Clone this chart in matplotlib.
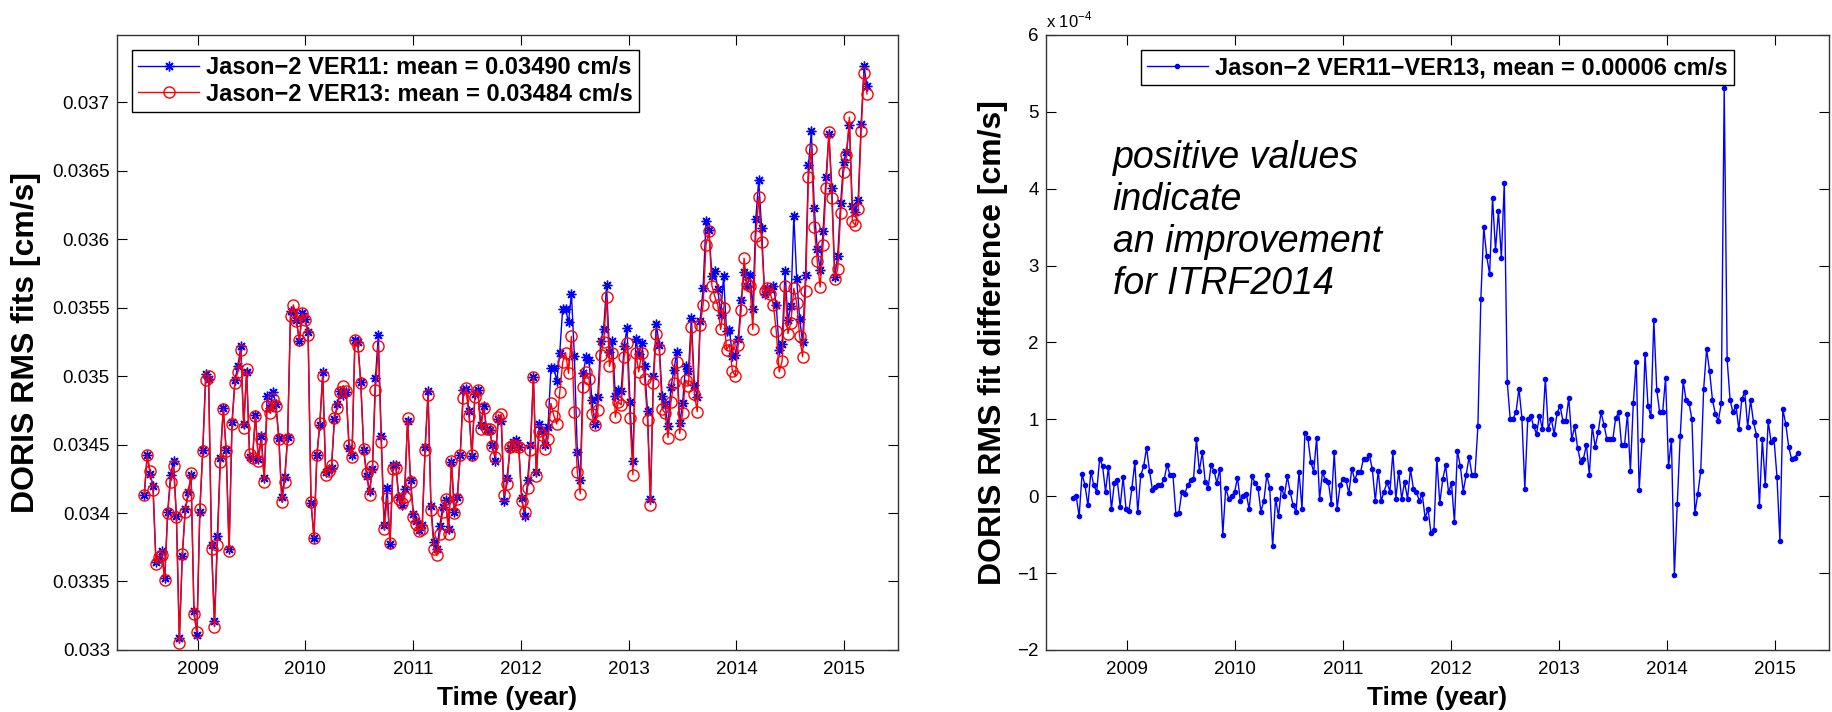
import matplotlib.pyplot as plt
import numpy as np
from matplotlib.ticker import FormatStrFormatter

plt.rcParams['font.family'] = ['Liberation Sans', 'DejaVu Sans']
plt.rcParams['mathtext.fontset'] = 'custom'
plt.rcParams['mathtext.rm'] = 'Liberation Sans'

# Jason-2 cycles (one point per ~9.9156-day repeat cycle)
first_epoch = 2008.505
cycle_days = 9.9156

# DORIS RMS fit, VER13 solution, in 1e-4 cm/s
ver13_e4 = [
    341.3, 344.2, 343.1, 341.7, 336.3, 336.8, 336.9, 335.1, 340.0, 342.3,
    343.4, 339.7, 330.5, 337.0, 340.1, 341.3, 342.9, 332.6, 331.3, 340.3,
    344.5, 349.7, 350.0, 337.4, 331.7, 337.7, 343.7, 347.6, 344.5, 337.2,
    346.5, 349.5, 350.3, 351.9, 346.2, 350.5, 344.3, 344.0, 347.1, 343.8,
    345.4, 342.3, 347.8, 347.3, 348.3, 347.8, 345.4, 340.8, 342.3, 345.4,
    354.4, 355.2, 354.0, 352.6, 354.6, 354.1, 353.0,
    340.8, 338.2, 344.2, 346.6, 350.0, 342.8, 343.1, 343.5, 346.9, 347.7,
    348.8, 349.3, 348.9, 345.0, 344.1, 352.6, 352.2, 349.5, 344.7, 342.9,
    341.3, 343.4, 349.0, 352.2, 345.2, 338.8, 341.1, 337.8, 343.2, 343.3,
    341.0, 340.7, 341.2, 346.9, 342.3, 339.7, 339.2, 338.7, 338.8, 344.6,
    348.6, 340.2, 337.4, 336.9, 338.5, 340.1, 341.0, 338.5, 343.8, 340.0,
    341.0, 344.2, 348.4, 349.1, 347.1, 344.2, 348.5, 349.0, 346.1, 347.7,
    346.1, 346.1, 344.9, 344.1, 347.0, 347.2, 341.3, 342.1, 344.8, 345.0,
    344.9, 344.8,
    340.9, 340.1, 341.8, 344.6, 349.9, 342.7, 346.0, 345.7, 344.7, 345.4,
    348.0, 347.1, 346.5, 348.8, 351.0, 351.7, 350.2, 352.9, 347.4, 343.0,
    341.4, 349.2, 350.3, 349.8, 347.2, 346.4, 347.5, 351.5, 352.5, 355.8,
    350.7, 351.7, 347.0, 348.1, 347.9, 351.4, 352.4, 346.9, 342.8, 351.7,
    350.3, 351.7, 349.8, 346.8, 340.6, 349.5, 353.1, 352.0, 347.6, 347.3,
    345.5, 348.1, 349.5, 351.0, 345.8, 347.3, 349.7, 349.3, 353.6, 348.7,
    347.4, 353.7, 355.2, 359.6, 360.6, 356.6, 355.8, 355.2,
    353.4, 355.0, 351.9, 352.3, 350.4, 350.0, 352.3, 354.8, 358.6, 356.7,
    356.6, 353.4, 360.2, 363.1, 359.8, 356.2, 356.4, 356.0, 355.2, 353.3,
    350.3, 351.1, 356.6, 353.1, 353.9, 356.4, 355.3, 352.9, 351.4, 356.2,
    364.5, 366.6, 360.9, 358.4, 356.5, 359.6, 363.7, 367.8, 363.0, 357.1,
    357.8, 361.9, 364.9, 366.1, 368.9, 361.3, 361.0, 362.2, 367.9, 372.1,
    370.6,
]

# VER11 - VER13 difference, in 1e-4 cm/s
diff_e4 = [
    -0.02, 0.00, -0.26, 0.29, 0.14, -0.12, 0.32, 0.14, 0.06, 0.49,
    0.39, 0.06, 0.38, -0.17, 0.17, 0.21, -0.14, 0.25, -0.17, -0.19,
    0.11, 0.44, -0.21, 0.27, 0.39, 0.63, 0.33, 0.08, 0.12, 0.14,
    0.15, 0.22, 0.41, 0.27, 0.27, -0.23, -0.22, 0.05, 0.03, 0.14,
    0.21, 0.22, 0.74, 0.33, 0.57, 0.19, 0.11, 0.40, 0.33, 0.17,
    0.36, -0.50, 0.11, -0.03, 0.00, 0.05, 0.24, -0.06, 0.00, 0.03,
    -0.17, 0.26,
    0.17, 0.11, -0.20, -0.06, 0.27, 0.11, -0.65, -0.03, -0.26, 0.11,
    0.00, 0.26, 0.05, -0.12, -0.20, 0.32, -0.16, 0.82, 0.76, 0.45,
    0.32, 0.76, -0.03, 0.31, 0.21, 0.19, -0.10, 0.57, -0.16, 0.14,
    0.23, 0.21, 0.04, 0.36, 0.21, 0.32, 0.32, 0.49, 0.48, 0.53,
    0.35, -0.06, 0.33, -0.06, 0.06, 0.18, 0.06, 0.57, -0.03, 0.32,
    -0.03, 0.18, -0.03, 0.35, 0.10, 0.06, -0.06, 0.03, -0.28, -0.17,
    -0.48, -0.44, 0.49,
    -0.09, 0.22, 0.40, 0.05, 0.17, -0.34, 0.59, 0.39, 0.06, 0.28,
    0.51, 0.27, 0.28, 0.91, 2.56, 3.50, 3.12, 2.89, 3.88, 3.20,
    3.71, 3.10, 4.08, 1.49, 1.01, 1.01, 1.09, 1.40, 1.02, 0.10,
    1.00, 1.05, 0.91, 0.81, 1.05, 0.87, 1.53, 0.87, 1.01, 0.81,
    1.08, 1.18, 0.98, 0.98, 1.28, 0.74, 0.91, 0.63, 0.45, 0.49,
    0.67, 0.28, 0.91, 0.64, 0.83, 1.09, 0.93, 0.74, 0.74, 0.74,
    1.02,
    1.09, 0.66, 0.66, 1.07, 0.33, 1.21, 1.75, 0.08, 0.73, 1.85,
    1.18, 1.04, 2.29, 1.38, 1.09, 1.09, 1.54, 0.39, 0.73, -1.02,
    -0.10, 0.78, 1.50, 1.25, 1.21, 1.00, -0.22, 0.03, 0.33, 1.40,
    1.91, 1.63, 1.25, 1.07, 0.98, 1.21, 5.31, 1.78, 1.25, 1.09,
    1.18, 0.87, 1.26, 1.36, 0.90, 1.25, 0.96, 0.80, -0.13, 0.74,
    0.15, 0.98, 0.70, 0.74, 0.25, -0.58, 1.13, 0.94, 0.64, 0.48,
    0.50, 0.56,
]

year_ticks = [2009, 2010, 2011, 2012, 2013, 2014, 2015]
rms_ticks = [0.033, 0.0335, 0.034, 0.0345, 0.035, 0.0355, 0.036, 0.0365, 0.037]
diff_ticks = [-2, -1, 0, 1, 2, 3, 4, 5, 6]

label11 = "Jason\u22122 VER11: mean = 0.03490 cm/s"
label13 = "Jason\u22122 VER13: mean = 0.03484 cm/s"
label_diff = "Jason\u22122 VER11\u2212VER13, mean = 0.00006 cm/s"
note = "positive values\nindicate\nan improvement\nfor ITRF2014"

ver13 = np.array(ver13_e4) * 1e-4
diff = np.array(diff_e4)
ver11 = ver13 + diff * 1e-4
t = first_epoch + np.arange(len(ver13)) * cycle_days / 365.25

fig = plt.figure(figsize=(18.33, 7.12), dpi=100)
ax1 = fig.add_axes([0.0637, 0.0871, 0.4263, 0.8638])
ax2 = fig.add_axes([0.5705, 0.0871, 0.4272, 0.8638])

# left: both solutions (asterisks = VER11, open circles = VER13)
ax1.plot(t, ver11, color="b", lw=1, marker=(8, 2, 0), ms=7, mew=1, label=label11)
ax1.plot(t, ver13, color="r", lw=1, marker="o", ms=8, mfc="none", mew=1, label=label13)
ax1.set_ylim(0.033, 0.03749)
ax1.set_yticks(rms_ticks)
ax1.yaxis.set_major_formatter(FormatStrFormatter("%g"))
ax1.set_ylabel("DORIS RMS fits [cm/s]", fontsize=23, fontweight="bold")
ax1.yaxis.set_label_coords(-0.097, 0.5)

# right: difference
ax2.plot(t, diff, color="b", lw=1, marker=".", ms=6, label=label_diff)
ax2.set_ylim(-2, 6)
ax2.set_yticks(diff_ticks)
ax2.set_ylabel("DORIS RMS fit difference [cm/s]", fontsize=23, fontweight="bold")
ax2.yaxis.set_label_coords(-0.048, 0.5)
ax2.text(0.0, 1.008, "x 10$^{-4}$", transform=ax2.transAxes, fontsize=12, va="bottom")
ax2.text(2008.87, 4.64, note, fontsize=27, style="italic", va="top", linespacing=1.22)

for ax in (ax1, ax2):
    ax.set_xlim(2008.25, 2015.5)
    ax.set_xticks(year_ticks)
    ax.set_xlabel("Time (year)", fontsize=19, fontweight="bold", labelpad=6)
    ax.tick_params(direction="in", top=True, right=True, length=7, labelsize=13.5)
    ax.tick_params(axis="x", pad=8)
    ax.tick_params(axis="y", pad=5)
    for s in ax.spines.values():
        s.set_linewidth(1)
        s.set_color("#333333")

leg_kw = dict(prop=dict(weight="bold", size=17), fancybox=False, edgecolor="k",
              framealpha=1, handlelength=2.6, handletextpad=0.3, labelspacing=0.15,
              borderpad=0.25, borderaxespad=0.65)
l1 = ax1.legend(loc="upper left", **leg_kw)
l2 = ax2.legend(loc="upper center", **leg_kw)
for lg in (l1, l2):
    lg.get_frame().set_linewidth(1)

fig.savefig("out.png", dpi=100)
